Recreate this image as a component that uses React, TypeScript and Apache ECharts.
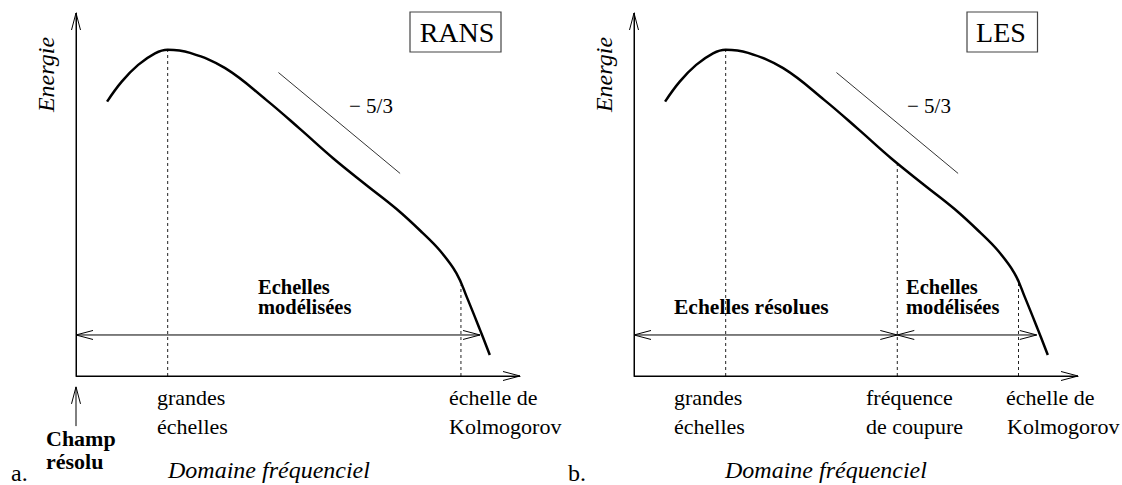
import React, { useEffect, useRef } from "react";
import * as echarts from "echarts";

// ---- data (frequency 0..100, energy 0..100, arbitrary units) ----
const curveFreq = [7.0, 10.3, 14.0, 17.8, 20.65, 25.7, 33.6, 42.9, 50.5, 57.9, 65.5, 72.2, 78.0, 82.0, 85.7, 88.0, 91.0, 93.2];
const curveEnergy = [75.6, 81.1, 85.7, 88.9, 89.9, 89.0, 84.8, 76.0, 68.0, 60.0, 52.5, 46.0, 39.5, 34.5, 28.3, 21.8, 12.7, 5.8];
const slopeFreq = [45.6, 73.0];
const slopeEnergy = [83.6, 55.8];
const panelNames = ["RANS", "LES"];
const panelLetters = ["a.", "b."];
// dashed markers: [frequency, energy at top]
const markersA = [[20.65, 89.9], [86.7, 25.0]];
const markersB = [[20.65, 89.9], [59.3, 58.5], [86.6, 26.5]];
// range arrows [from, to]
const rangeLevel = 11.3;
const rangesA = [[0, 91.0]];
const rangesB = [[0, 59.3], [59.3, 90.7]];
const champArrow = [-13.8, -3.0];

const SERIF = '"Liberation Serif", "Times New Roman", serif';

function renderArrow(_params: any, api: any) {
  const a = api.coord([api.value(0), api.value(1)]);
  const b = api.coord([api.value(2), api.value(3)]);
  const sh = api.value(4);
  const eh = api.value(5);
  const children: any[] = [
    { type: "line", shape: { x1: a[0], y1: a[1], x2: b[0], y2: b[1] }, style: { stroke: "#000", lineWidth: 1 } },
  ];
  const head = (tip: number[], from: number[]) => {
    const dx = tip[0] - from[0];
    const dy = tip[1] - from[1];
    const len = Math.hypot(dx, dy) || 1;
    const ux = dx / len;
    const uy = dy / len;
    const L = 17;
    const W = 4.5;
    return {
      type: "polyline",
      shape: {
        points: [
          [tip[0] - ux * L - uy * W, tip[1] - uy * L + ux * W],
          [tip[0], tip[1]],
          [tip[0] - ux * L + uy * W, tip[1] - uy * L - ux * W],
        ],
      },
      style: { stroke: "#000", fill: null, lineWidth: 1 },
    };
  };
  if (sh) children.push(head(a, b));
  if (eh) children.push(head(b, a));
  return { type: "group", children };
}

function renderDashed(_params: any, api: any) {
  const p0 = api.coord([api.value(0), 0]);
  const p1 = api.coord([api.value(0), api.value(1)]);
  return {
    type: "line",
    shape: { x1: p0[0], y1: p0[1], x2: p1[0], y2: p1[1] },
    style: { stroke: "#222", lineWidth: 1, lineDash: [3, 3] },
  };
}

function panelSeries(idx: number, markers: number[][], ranges: number[][], extraArrows: number[][]) {
  const curve = curveFreq.map((f, i) => [f, curveEnergy[i]]);
  const slope = slopeFreq.map((f, i) => [f, slopeEnergy[i]]);
  const arrows = [
    [0, 0, 100, 0, 0, 1],
    [0, 0, 0, 100, 0, 1],
    ...ranges.map((r) => [r[0], rangeLevel, r[1], rangeLevel, 1, 1]),
    ...extraArrows,
  ];
  return [
    {
      type: "line",
      xAxisIndex: idx,
      yAxisIndex: idx,
      data: curve,
      smooth: 0.4,
      symbol: "none",
      lineStyle: { color: "#000", width: 2.5 },
      z: 5,
    },
    {
      type: "line",
      xAxisIndex: idx,
      yAxisIndex: idx,
      data: slope,
      symbol: "none",
      lineStyle: { color: "#333", width: 1 },
    },
    {
      type: "custom",
      xAxisIndex: idx,
      yAxisIndex: idx,
      data: markers,
      renderItem: renderDashed,
      encode: { x: 0, y: 1 },
    },
    {
      type: "custom",
      xAxisIndex: idx,
      yAxisIndex: idx,
      data: arrows,
      renderItem: renderArrow,
      encode: { x: [0, 2], y: [1, 3] },
      clip: false,
    },
  ];
}

function txt(text: string, x: number, y: number, size: number, opts: any = {}) {
  return {
    type: "text",
    x,
    y,
    rotation: opts.rotation || 0,
    z: 10,
    style: {
      text,
      fill: "#000",
      fontFamily: SERIF,
      fontSize: size,
      fontWeight: opts.bold ? "bold" : "normal",
      fontStyle: opts.italic ? "italic" : "normal",
      align: opts.align || "left",
      verticalAlign: "middle",
    },
  };
}

export default function App() {
  const ref = useRef<HTMLDivElement>(null);
  useEffect(() => {
    if (!ref.current) return;
    const chart = echarts.init(ref.current, undefined, { renderer: "svg" });
    const axisCommon = {
      type: "value",
      min: 0,
      max: 100,
      axisLine: { show: true, onZero: false, lineStyle: { color: "#000", width: 1 } },
      axisTick: { show: false },
      axisLabel: { show: false },
      splitLine: { show: false },
    };
    const off = 558;
    const graphic: any[] = [
      // panel a
      txt("Energie", 46, 74.5, 24, { italic: true, rotation: Math.PI / 2, align: "center" }),
      { type: "rect", shape: { x: 410, y: 12, width: 91, height: 40 }, style: { fill: "#fff", stroke: "#444", lineWidth: 1.2 }, z: 9 },
      txt(panelNames[0], 457, 32.2, 28, { align: "center" }),
      txt("− 5/3", 349, 105.6, 21),
      txt("Echelles", 258, 286.9, 20.5, { bold: true }),
      txt("modélisées", 258, 307.4, 20.5, { bold: true }),
      txt("grandes", 157, 397.5, 22),
      txt("échelles", 157, 426.5, 22),
      txt("échelle de", 449, 397.5, 22),
      txt("Kolmogorov", 449, 426.5, 22),
      txt("Champ", 46, 438.5, 22, { bold: true }),
      txt("résolu", 46, 461.5, 22, { bold: true }),
      txt(panelLetters[0], 11, 472.8, 24),
      txt("Domaine fréquenciel", 168, 469.8, 24, { italic: true }),
      // panel b
      txt("Energie", 46 + off, 74.5, 24, { italic: true, rotation: Math.PI / 2, align: "center" }),
      { type: "rect", shape: { x: 967, y: 12, width: 70.5, height: 40 }, style: { fill: "#fff", stroke: "#444", lineWidth: 1.2 }, z: 9 },
      txt(panelNames[1], 1001, 32.2, 28, { align: "center" }),
      txt("− 5/3", 907, 105.6, 21),
      txt("Echelles résolues", 674, 307.4, 21.5, { bold: true }),
      txt("Echelles", 906, 286.9, 20.5, { bold: true }),
      txt("modélisées", 906, 307.4, 20.5, { bold: true }),
      txt("grandes", 674, 397.5, 22),
      txt("échelles", 674, 426.5, 22),
      txt("fréquence", 866, 397.5, 22),
      txt("de coupure", 866, 426.5, 22),
      txt("échelle de", 1006, 397.5, 22),
      txt("Kolmogorov", 1007, 426.5, 22),
      txt(panelLetters[1], 568, 472.8, 24),
      txt("Domaine fréquenciel", 725, 469.8, 24, { italic: true }),
    ];
    chart.setOption({
      animation: false,
      backgroundColor: "#fff",
      grid: [
        { left: 76, top: 13, width: 444, height: 363, outerBoundsMode: "none", containLabel: false },
        { left: 634, top: 13, width: 444, height: 363, outerBoundsMode: "none", containLabel: false },
      ],
      xAxis: [
        { ...axisCommon, gridIndex: 0 },
        { ...axisCommon, gridIndex: 1 },
      ],
      yAxis: [
        { ...axisCommon, gridIndex: 0 },
        { ...axisCommon, gridIndex: 1 },
      ],
      series: [
        ...panelSeries(0, markersA, rangesA, [[0, champArrow[0], 0, champArrow[1], 0, 1]]),
        ...panelSeries(1, markersB, rangesB, []),
      ],
      graphic,
    });
    return () => chart.dispose();
  }, []);
  return (
    <div
      ref={ref}
      style={{ position: "fixed", left: 0, top: 0, width: 1122, height: 485, background: "#fff" }}
    />
  );
}
